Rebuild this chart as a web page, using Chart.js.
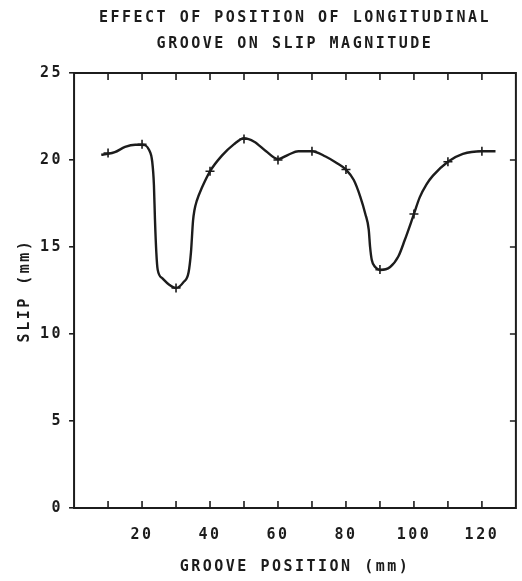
<!DOCTYPE html>
<html>
<head>
<meta charset="utf-8">
<title>Effect of position of longitudinal groove on slip magnitude</title>
<script src="https://cdn.jsdelivr.net/npm/chart.js@4"></script>
<style>
  html, body { margin: 0; padding: 0; background: #fff; }
  #wrap { width: 522px; height: 581px; }
</style>
</head>
<body>
<div id="wrap"><canvas id="slipChart"></canvas></div>
<script>
// measured points (the + marks)
const grooveX = [10, 20, 30, 40, 50, 60, 70, 80, 90, 100, 110, 120];
const slipAtGroove = [20.4, 20.9, 12.65, 19.35, 21.2, 20.0, 20.5, 19.45, 13.7, 16.9, 19.9, 20.5];

// faired curve
const curveX = [8, 10, 12, 15, 18, 20, 22, 23, 23.5, 23.8, 24.2, 24.6, 26, 28, 30, 32.2, 33.7, 34.4, 35, 35.4, 36.1, 37.6, 40,
  43.5, 47, 50, 53, 56.5, 60, 63, 66, 70, 74, 77.5, 80, 82.3, 84.2, 85.7, 86.7, 87.1, 87.6, 88.6, 90, 93, 95.4, 97.3, 99.3, 100,
  101.7, 103.7, 105.6, 110, 114.4, 120, 124];
const curveSlip = [20.3, 20.35, 20.45, 20.75, 20.88, 20.88, 20.6, 19.9, 18.55, 16.6, 14.7, 13.7, 13.2, 12.83, 12.65, 12.98, 13.55, 14.7, 16.5, 17.1, 17.65, 18.4, 19.35,
  20.25, 20.9, 21.25, 21.05, 20.5, 20.05, 20.3, 20.5, 20.5, 20.2, 19.8, 19.45, 18.85, 17.9, 16.9, 16.0, 15.0, 14.25, 13.85, 13.68, 13.85, 14.45, 15.4, 16.5, 16.9,
  17.85, 18.6, 19.1, 19.9, 20.35, 20.5, 20.5];

const xTickLabels = [20, 40, 60, 80, 100, 120];
const xMinorTicks = [10, 20, 30, 40, 50, 60, 70, 80, 90, 100, 110, 120];
const yTickLabels = [0, 5, 10, 15, 20, 25];
const yRightTicks = [5, 10, 15, 20];

const ink = '#1c1c1c';
const FONT = "'DejaVu Sans Mono', monospace";

// plotter-style wide lettering
function spaceLetters(chart) {
  chart.ctx.letterSpacing = '2.5px';
}

const frame = {
  id: 'frame',
  beforeLayout: spaceLetters,
  beforeDraw: spaceLetters,
  afterLayout(chart) {
    // centre the title over the plot box, as in the original
    const a = chart.chartArea;
    if (chart.titleBlock) {
      chart.titleBlock.left = a.left;
      chart.titleBlock.right = a.right;
    }
  },
  afterDatasetsDraw(chart) {
    const { ctx, chartArea: a, scales: { x, y } } = chart;
    ctx.save();
    ctx.strokeStyle = ink;
    ctx.lineWidth = 2;
    ctx.strokeRect(a.left, a.top, a.right - a.left, a.bottom - a.top);
    ctx.lineWidth = 1.6;
    ctx.beginPath();
    xMinorTicks.forEach(v => {
      const px = x.getPixelForValue(v);
      ctx.moveTo(px, a.top); ctx.lineTo(px, a.top + 7);
      ctx.moveTo(px, a.bottom); ctx.lineTo(px, a.bottom - 7);
    });
    yRightTicks.forEach(v => {
      const py = y.getPixelForValue(v);
      ctx.moveTo(a.right, py); ctx.lineTo(a.right - 6, py);
    });
    ctx.stroke();
    ctx.restore();
  }
};

new Chart(document.getElementById('slipChart'), {
  type: 'scatter',
  data: {
    datasets: [
      {
        label: 'curve',
        data: curveX.map((v, i) => ({ x: v, y: curveSlip[i] })),
        showLine: true,
        borderColor: ink,
        borderWidth: 2.4,
        pointRadius: 0,
        cubicInterpolationMode: 'monotone',
        fill: false
      },
      {
        label: 'measured',
        data: grooveX.map((v, i) => ({ x: v, y: slipAtGroove[i] })),
        showLine: false,
        pointStyle: 'cross',
        pointRadius: 4.5,
        borderColor: ink,
        borderWidth: 1.6,
        backgroundColor: ink
      }
    ]
  },
  options: {
    responsive: true,
    maintainAspectRatio: false,
    animation: false,
    layout: { padding: { left: 8, right: -5, top: -1, bottom: 0 } },
    plugins: {
      legend: { display: false },
      tooltip: { enabled: false },
      title: {
        display: true,
        text: ['EFFECT OF POSITION OF LONGITUDINAL', 'GROOVE ON SLIP MAGNITUDE'],
        color: ink,
        font: { family: FONT, size: 15, weight: 'bold', lineHeight: '26px' },
        padding: { top: 6, bottom: 16 }
      }
    },
    scales: {
      x: {
        type: 'linear',
        min: 0,
        max: 130,
        afterBuildTicks: scale => { scale.ticks = xTickLabels.map(v => ({ value: v })); },
        // invisible tick marks, only used to push the labels down
        grid: { display: true, drawOnChartArea: false, drawTicks: true, tickLength: 18, color: 'rgba(0,0,0,0)' },
        border: { display: false },
        ticks: { color: ink, padding: 0, font: { family: FONT, size: 15, weight: 'bold' } },
        title: {
          display: true,
          text: 'GROOVE POSITION (mm)',
          color: ink,
          font: { family: FONT, size: 15, weight: 'bold' },
          padding: { top: 14, bottom: 5 }
        }
      },
      y: {
        min: 0,
        max: 25,
        afterBuildTicks: scale => { scale.ticks = yTickLabels.map(v => ({ value: v })); },
        grid: { drawOnChartArea: false, drawTicks: true, tickLength: 5, color: ink, lineWidth: 1.6 },
        border: { display: false },
        ticks: { color: ink, padding: 6, font: { family: FONT, size: 15, weight: 'bold' } },
        title: {
          display: true,
          text: 'SLIP (mm)',
          color: ink,
          font: { family: FONT, size: 15, weight: 'bold' },
          padding: { top: 8, bottom: 0 }
        }
      }
    }
  },
  plugins: [frame]
});
</script>
</body>
</html>
